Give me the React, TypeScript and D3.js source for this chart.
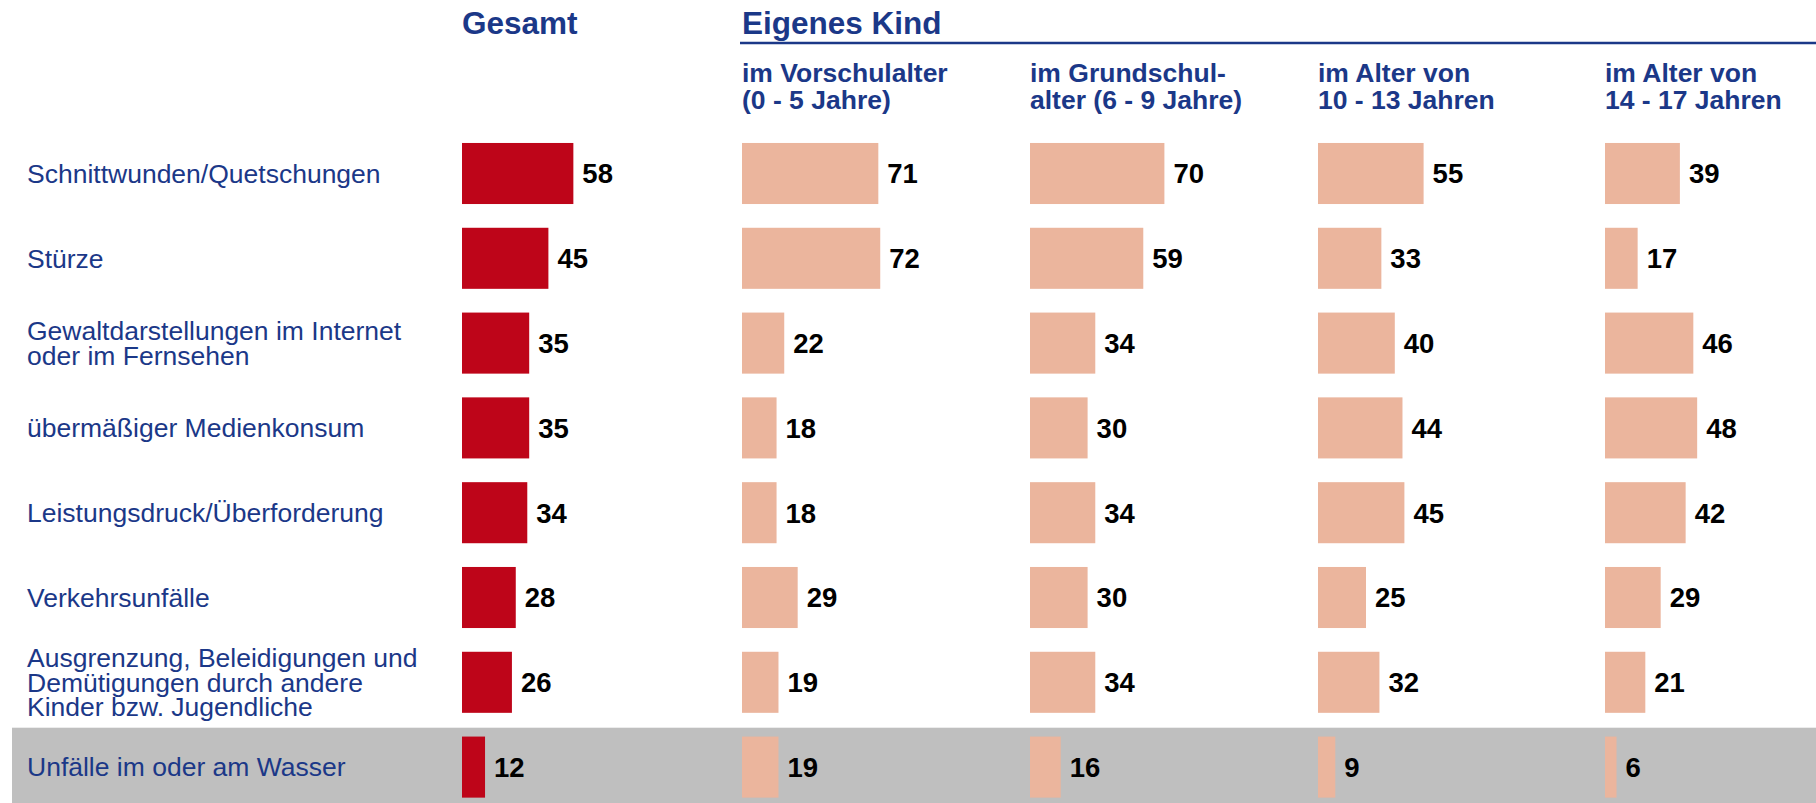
import { scaleBand, scaleLinear } from "d3";

const categories = [
  "Schnittwunden/Quetschungen",
  "Stürze",
  "Gewaltdarstellungen im Internet\noder im Fernsehen",
  "übermäßiger Medienkonsum",
  "Leistungsdruck/Überforderung",
  "Verkehrsunfälle",
  "Ausgrenzung, Beleidigungen und\nDemütigungen durch andere\nKinder bzw. Jugendliche",
  "Unfälle im oder am Wasser",
];

const gesamt = [58, 45, 35, 35, 34, 28, 26, 12];
const vorschulalter = [71, 72, 22, 18, 18, 29, 19, 19];
const grundschulalter = [70, 59, 34, 30, 34, 30, 34, 16];
const alter10bis13 = [55, 33, 40, 44, 45, 25, 32, 9];
const alter14bis17 = [39, 17, 46, 48, 42, 29, 21, 6];

const subHeaders = [
  ["im Vorschulalter", "(0 - 5 Jahre)"],
  ["im Grundschul-", "alter (6 - 9 Jahre)"],
  ["im Alter von", "10 - 13 Jahren"],
  ["im Alter von", "14 - 17 Jahren"],
];

const width = 1816;
const height = 803;
const blue = "#1b3888";
const red = "#be0519";
const salmon = "#ebb59d";
const font = "'Liberation Sans', Arial, sans-serif";

export default function App() {
  const step = 84.8;
  const top = 173.5 - step / 2;
  const y = scaleBand<string>()
    .domain(categories)
    .range([top, top + step * categories.length])
    .paddingInner(0.28)
    .paddingOuter(0.14);

  const x = scaleLinear().domain([0, 100]).range([0, 192]);

  const columns = [
    { left: 462, values: gesamt, color: red },
    { left: 742, values: vorschulalter, color: salmon },
    { left: 1030, values: grundschulalter, color: salmon },
    { left: 1318, values: alter10bis13, color: salmon },
    { left: 1605, values: alter14bis17, color: salmon },
  ];

  const last = categories[categories.length - 1];
  const bandTop = (y(last) ?? 0) + y.bandwidth() / 2 - step / 2 + 3;

  return (
    <svg
      width={width}
      height={height}
      style={{ position: "absolute", left: 0, top: 0, fontFamily: font }}
    >
      <rect x={0} y={0} width={width} height={height} fill="#fff" />
      {/* grey highlight row */}
      <rect x={12} y={bandTop} width={width - 12} height={height - bandTop} fill="#bfbfbf" />

      {/* headers */}
      <text x={462} y={34} fill={blue} fontSize={31.5} fontWeight="bold">
        Gesamt
      </text>
      <text x={742} y={34} fill={blue} fontSize={31.5} fontWeight="bold">
        Eigenes Kind
      </text>
      <line x1={740} x2={width} y1={43} y2={43} stroke={blue} strokeWidth={2.5} />
      {subHeaders.map((lines, i) => (
        <text
          key={i}
          x={columns[i + 1].left}
          y={82}
          fill={blue}
          fontSize={26.5}
          fontWeight="bold"
        >
          {lines.map((l, j) => (
            <tspan key={j} x={columns[i + 1].left} y={82 + j * 26.5}>
              {l}
            </tspan>
          ))}
        </text>
      ))}

      {/* row labels */}
      {categories.map((c) => {
        const lines = c.split("\n");
        const cy = (y(c) ?? 0) + y.bandwidth() / 2;
        const lh = 24.5;
        const first = cy - ((lines.length - 1) * lh) / 2;
        return (
          <text key={c} fill={blue} fontSize={26.5}>
            {lines.map((l, j) => (
              <tspan key={j} x={27} y={first + j * lh} dy="0.35em">
                {l}
              </tspan>
            ))}
          </text>
        );
      })}

      {/* bars */}
      {columns.map((col, ci) => (
        <g key={ci} transform={`translate(${col.left},0)`}>
          {col.values.map((v, i) => {
            const c = categories[i];
            const by = y(c) ?? 0;
            return (
              <g key={c}>
                <rect x={0} y={by} width={x(v)} height={y.bandwidth()} fill={col.color} />
                <text
                  x={x(v) + 9}
                  y={by + y.bandwidth() / 2}
                  dy="0.36em"
                  fontSize={27.5}
                  fontWeight="bold"
                  fill="#000"
                >
                  {v}
                </text>
              </g>
            );
          })}
        </g>
      ))}
    </svg>
  );
}
